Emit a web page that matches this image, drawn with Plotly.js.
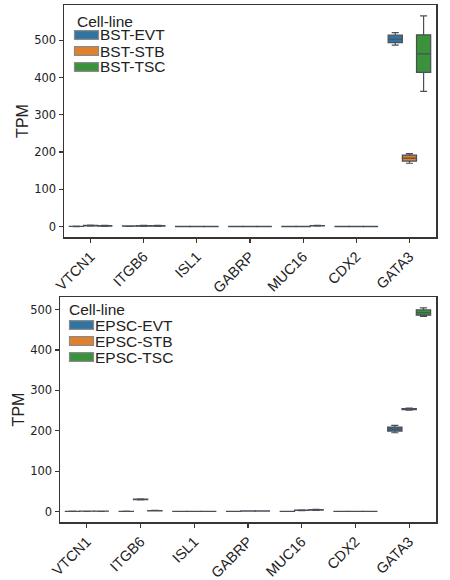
<!DOCTYPE html>
<html><head><meta charset="utf-8">
<script src="https://cdn.plot.ly/plotly-3.0.1.min.js"></script>
<style>html,body{margin:0;padding:0;background:#fff}#chart{width:450px;height:580px}</style>
</head><body><div id="chart"></div>
<script>
const genes = ["VTCN1","ITGB6","ISL1","GABRP","MUC16","CDX2","GATA3"];
const legendTitle = "Cell-line";

// Top panel (BST)
const bstNames = ["BST-EVT","BST-STB","BST-TSC"];
const bstEVT_q1 = [0.2,1.0,0.1,0.1,0.1,0.1,494];
const bstEVT_med = [0.4,1.4,0.2,0.2,0.2,0.2,503];
const bstEVT_q3 = [0.7,1.8,0.3,0.3,0.3,0.3,514];
const bstEVT_lo = [0.0,0.6,0.0,0.0,0.0,0.0,487];
const bstEVT_hi = [1.0,2.2,0.5,0.5,0.5,0.5,521];

const bstSTB_q1 = [2.0,1.2,0.1,0.1,0.1,0.1,176];
const bstSTB_med = [2.6,1.8,0.2,0.2,0.3,0.2,184];
const bstSTB_q3 = [3.4,2.4,0.3,0.3,0.5,0.3,192];
const bstSTB_lo = [1.2,0.6,0.0,0.0,0.0,0.0,170];
const bstSTB_hi = [4.2,3.0,0.5,0.5,0.8,0.5,196];

const bstTSC_q1 = [1.4,1.4,0.1,0.1,1.6,0.1,414];
const bstTSC_med = [2.0,2.0,0.2,0.2,2.2,0.2,464];
const bstTSC_q3 = [2.8,2.8,0.3,0.3,2.8,0.3,515];
const bstTSC_lo = [0.8,0.8,0.0,0.0,1.0,0.0,363];
const bstTSC_hi = [3.6,3.6,0.5,0.5,3.4,0.5,566];

// Bottom panel (EPSC)
const epscNames = ["EPSC-EVT","EPSC-STB","EPSC-TSC"];
const epscEVT_q1 = [0.2,0.1,0.1,0.1,0.1,0.1,199];
const epscEVT_med = [0.4,0.3,0.2,0.2,0.2,0.2,204];
const epscEVT_q3 = [0.6,0.5,0.3,0.3,0.3,0.3,209];
const epscEVT_lo = [0.0,0.0,0.0,0.0,0.0,0.0,195];
const epscEVT_hi = [0.8,0.8,0.5,0.5,0.5,0.5,213];

const epscSTB_q1 = [0.6,29.5,0.1,1.0,2.6,0.1,252];
const epscSTB_med = [0.8,30.0,0.2,1.2,3.0,0.2,253.5];
const epscSTB_q3 = [1.0,30.5,0.3,1.4,3.4,0.3,255];
const epscSTB_lo = [0.4,29.0,0.0,0.8,2.2,0.0,251];
const epscSTB_hi = [1.2,31.0,0.5,1.6,3.8,0.5,256];

const epscTSC_q1 = [0.6,1.6,0.1,1.0,3.4,0.1,486];
const epscTSC_med = [0.8,2.0,0.2,1.2,4.0,0.2,492];
const epscTSC_q3 = [1.0,2.4,0.3,1.4,4.6,0.3,499];
const epscTSC_lo = [0.4,1.2,0.0,0.8,2.8,0.0,483];
const epscTSC_hi = [1.2,2.8,0.5,1.6,5.2,0.5,504];

const colors = ["#3274a1","#e1812c","#3a923a"];
const lineCol = "#4a4f57";
const FONT = "Liberation Sans, Arial, sans-serif";

function box(name, q1, med, q3, lo, hi, color, xa, ya, grp) {
  return {
    type: "box", name: name, x: genes, q1: q1, median: med, q3: q3,
    lowerfence: lo, upperfence: hi, boxpoints: false,
    fillcolor: color, line: {color: lineCol, width: 1.2},
    whiskerwidth: 0.5, xaxis: xa, yaxis: ya, hoverinfo: "skip",
    alignmentgroup: grp, offsetgroup: name, showlegend: false
  };
}

const data = [
  box(bstNames[0], bstEVT_q1, bstEVT_med, bstEVT_q3, bstEVT_lo, bstEVT_hi, colors[0], "x", "y", "top"),
  box(bstNames[1], bstSTB_q1, bstSTB_med, bstSTB_q3, bstSTB_lo, bstSTB_hi, colors[1], "x", "y", "top"),
  box(bstNames[2], bstTSC_q1, bstTSC_med, bstTSC_q3, bstTSC_lo, bstTSC_hi, colors[2], "x", "y", "top"),
  box(epscNames[0], epscEVT_q1, epscEVT_med, epscEVT_q3, epscEVT_lo, epscEVT_hi, colors[0], "x2", "y2", "bottom"),
  box(epscNames[1], epscSTB_q1, epscSTB_med, epscSTB_q3, epscSTB_lo, epscSTB_hi, colors[1], "x2", "y2", "bottom"),
  box(epscNames[2], epscTSC_q1, epscTSC_med, epscTSC_q3, epscTSC_lo, epscTSC_hi, colors[2], "x2", "y2", "bottom")
];

const spine = "#3a3532";
const xCommon = {
  type: "category", range: [-0.5, 6.5], showgrid: false, zeroline: false,
  showline: true, mirror: true, linecolor: spine, linewidth: 1.5,
  ticks: "outside", ticklen: 4, tickcolor: spine, tickwidth: 1.2, tickangle: -45,
  tickfont: {family: FONT, size: 14.5, color: "#222"}, automargin: false
};
const yCommon = {
  showgrid: false, zeroline: false, showline: true, mirror: true,
  linecolor: spine, linewidth: 1.5, ticks: "outside", ticklen: 4,
  tickcolor: spine, tickwidth: 1.2, dtick: 100, automargin: false,
  tickfont: {family: "DejaVu Sans, sans-serif", size: 11.5, color: "#222"},
  title: {text: "TPM", font: {family: FONT, size: 16, color: "#222"}, standoff: 1}
};

// Manual legend (paper pixel positions)
const W = 450, H = 580;
function px(x) { return x / W; }
function py(y) { return 1 - y / H; }
const shapes = [], annotations = [];
function addLegend(names, titleX, titleY, patchX, rowY0, textX) {
  annotations.push({xref: "paper", yref: "paper", x: px(titleX), y: py(titleY),
    xanchor: "left", yanchor: "middle", text: legendTitle, showarrow: false,
    borderpad: 0, font: {family: FONT, size: 15.5, color: "#222"}});
  names.forEach((n, i) => {
    const cy = rowY0 + i * 16;
    shapes.push({type: "rect", xref: "paper", yref: "paper",
      x0: px(patchX), x1: px(patchX + 24), y0: py(cy - 4.3), y1: py(cy + 4.3),
      fillcolor: colors[i], line: {color: "#8a8a8a", width: 1.2}});
    annotations.push({xref: "paper", yref: "paper", x: px(textX), y: py(cy),
      xanchor: "left", yanchor: "middle", text: n, showarrow: false,
      borderpad: 0, font: {family: FONT, size: 15.5, color: "#222"}});
  });
}
addLegend(bstNames, 76, 21, 74.5, 35, 99);
addLegend(epscNames, 68, 309, 69.5, 325, 94);

const layout = {
  width: W, height: H,
  margin: {l: 0, r: 0, t: 0, b: 0},
  paper_bgcolor: "#fff", plot_bgcolor: "#fff",
  boxmode: "group", boxgap: 0.2, boxgroupgap: 0,
  showlegend: false,
  xaxis: Object.assign({}, xCommon, {domain: [64/W, 436/W], anchor: "y"}),
  yaxis: Object.assign({}, yCommon, {domain: [1-237/H, 1-5/H], range: [-28, 595], anchor: "x"}),
  xaxis2: Object.assign({}, xCommon, {domain: [60/W, 436/W], anchor: "y2"}),
  yaxis2: Object.assign({}, yCommon, {domain: [1-522/H, 1-297/H], range: [-26, 531], anchor: "x2"}),
  shapes: shapes, annotations: annotations
};

Plotly.newPlot("chart", data, layout, {displayModeBar: false, staticPlot: true});
</script></body></html>
